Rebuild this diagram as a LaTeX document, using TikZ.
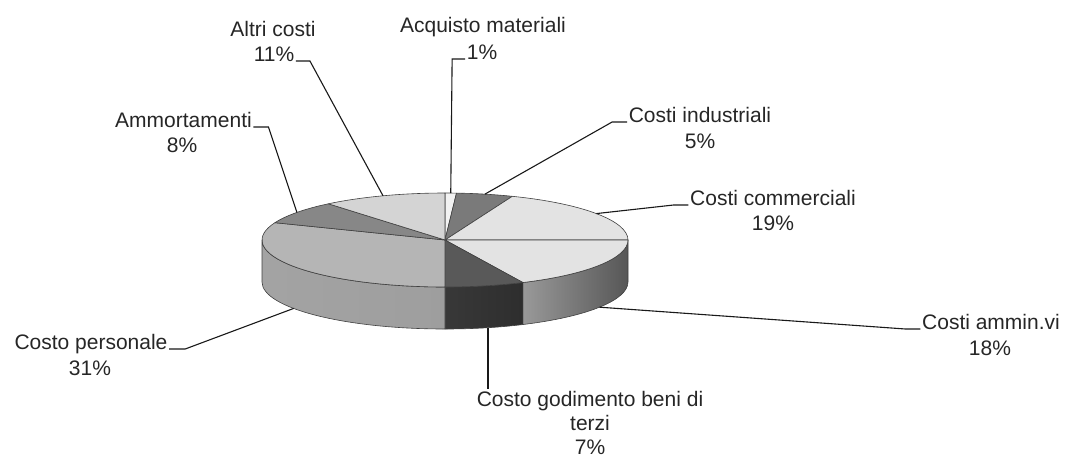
\documentclass[tikz,border=0pt]{standalone}
\usepackage{fontspec}
\setmainfont{Liberation Sans}
\usepackage{tikz}

\begin{document}
\begin{tikzpicture}[x=1pt, y=-1pt,
	txt/.style = {anchor=base, inner sep=1.5pt, text=black!85,
	font=\fontsize{21}{25}\selectfont},
	slice/.style = {draw=black!75, line width=0.6pt, line join=round},
	leader/.style = {draw=black!90, line width=1.1pt}]

	\useasboundingbox (0,0) rectangle (1065,459);

	\begin{scope}[shift={(445,240)}]
	% Sides
	\draw[slice, left color=black!40, right color=black!66] ({183*cos(0)},{47*sin(0)})
		arc[start angle=0, end angle=64.8, x radius=183, y radius=47] -- ++(0,42)
		arc[start angle=64.8, end angle=0, x radius=183, y radius=47] -- cycle;
	\draw[slice, left color=black!78, right color=black!82] ({183*cos(64.8)},{47*sin(64.8)})
		arc[start angle=64.8, end angle=90, x radius=183, y radius=47] -- ++(0,42)
		arc[start angle=90, end angle=64.8, x radius=183, y radius=47] -- cycle;
	\draw[slice, left color=black!36, middle color=black!25, right color=black!38] ({183*cos(90)},{47*sin(90)})
		arc[start angle=90, end angle=180, x radius=183, y radius=47] -- ++(0,42)
		arc[start angle=180, end angle=90, x radius=183, y radius=47] -- cycle;

	% Top
	\draw[slice, fill=black!5] (0,0) -- ({183*cos(-90)},{47*sin(-90)})
		arc[start angle=-90, end angle=-86.4, x radius=183, y radius=47] -- cycle;
	\draw[slice, fill=black!52] (0,0) -- ({183*cos(-86.4)},{47*sin(-86.4)})
		arc[start angle=-86.4, end angle=-68.4, x radius=183, y radius=47] -- cycle;
	\draw[slice, fill=black!11] (0,0) -- ({183*cos(-68.4)},{47*sin(-68.4)})
		arc[start angle=-68.4, end angle=0, x radius=183, y radius=47] -- cycle;
	\draw[slice, fill=black!11] (0,0) -- ({183*cos(0)},{47*sin(0)})
		arc[start angle=0, end angle=64.8, x radius=183, y radius=47] -- cycle;
	\draw[slice, fill=black!65] (0,0) -- ({183*cos(64.8)},{47*sin(64.8)})
		arc[start angle=64.8, end angle=90, x radius=183, y radius=47] -- cycle;
	\draw[slice, fill=black!29] (0,0) -- ({183*cos(90)},{47*sin(90)})
		arc[start angle=90, end angle=201.6, x radius=183, y radius=47] -- cycle;
	\draw[slice, fill=black!47] (0,0) -- ({183*cos(201.6)},{47*sin(201.6)})
		arc[start angle=201.6, end angle=230.4, x radius=183, y radius=47] -- cycle;
	\draw[slice, fill=black!17] (0,0) -- ({183*cos(230.4)},{47*sin(230.4)})
		arc[start angle=230.4, end angle=270, x radius=183, y radius=47] -- cycle;

	% Leader ends on the pie
	\coordinate (pAcq) at ({183*cos(-88.2)},{47*sin(-88.2)});
	\coordinate (pInd) at ({183*cos(-77.4)},{47*sin(-77.4)});
	\coordinate (pCom) at ({183*cos(-34.2)},{47*sin(-34.2)});
	\coordinate (pAdm) at ({183*cos(32.4)},{47*sin(32.4)+42});
	\coordinate (pGod) at (43,{47*sin(77.4)+42});
	\coordinate (pPers) at ({183*cos(145.8)},{47*sin(145.8)+42});
	\coordinate (pAmm) at ({183*cos(216)},{47*sin(216)});
	\coordinate (pAltri) at ({183*cos(250.2)},{47*sin(250.2)});
	\end{scope}

	% Labels
	\node (tAltri) [txt] at (273, 36) {Altri costi};
	\node (vAltri) [txt] at (274, 61) {11\%};
	\node (tAcq) [txt] at (483, 32) {Acquisto materiali};
	\node (vAcq) [txt] at (482, 59) {1\%};
	\node (tAmm) [txt] at (183.5, 127) {Ammortamenti};
	\node (vAmm) [txt] at (182, 152) {8\%};
	\node (tInd) [txt] at (700, 122) {Costi industriali};
	\node (vInd) [txt] at (700, 148) {5\%};
	\node (tCom) [txt] at (773, 205) {Costi commerciali};
	\node (vCom) [txt] at (773, 230) {19\%};
	\node (tAdm) [txt] at (991, 329) {Costi ammin.vi};
	\node (vAdm) [txt] at (990, 355) {18\%};
	\node (tPers) [txt] at (91, 349) {Costo personale};
	\node (vPers) [txt] at (90, 375) {31\%};
	\node (tGod) [txt] at (590, 406) {Costo godimento beni di};
	\node (tGod2) [txt] at (590, 430) {terzi};
	\node (vGod) [txt] at (590, 454) {7\%};

	% Leaders
	\draw[leader] (vAltri.base east) -- ++(14,0) -- (pAltri);
	\draw[leader] (vAcq.base west) -- ++(-13,0) -- (pAcq);
	\draw[leader] (tAmm.base east) -- ++(15,0) -- (pAmm);
	\draw[leader] (tInd.base west) -- ++(-15,0) -- (pInd);
	\draw[leader] (tCom.base west) -- ++(-15,0) -- (pCom);
	\draw[leader] (tAdm.base west) -- ++(-15,0) -- (pAdm);
	\draw[leader] (tPers.base east) -- ++(16,0) -- (pPers);
	\draw[leader] (pGod) -- (pGod |- tGod.north);
\end{tikzpicture}
\end{document}
